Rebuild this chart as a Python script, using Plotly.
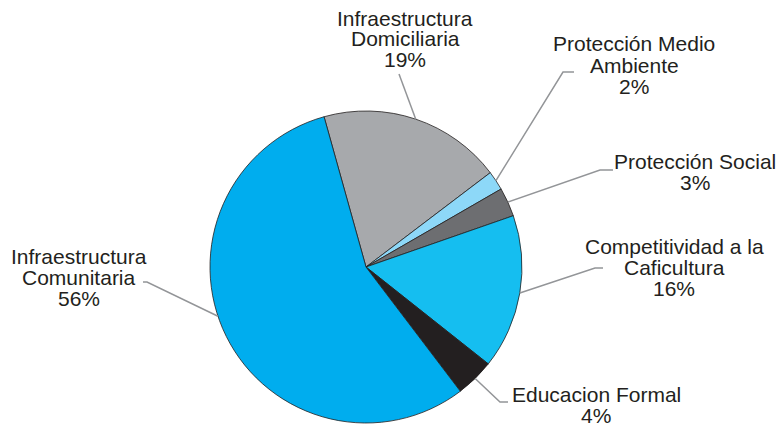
import math
import plotly.graph_objects as go

# ---- data ----
categories = ["Infraestructura Domiciliaria", "Protección Medio Ambiente", "Protección Social",
              "Competitividad a la Caficultura", "Educacion Formal", "Infraestructura Comunitaria"]
values = [19, 2, 3, 16, 4, 56]
label_lines = [
    ["Infraestructura", "Domiciliaria", "19%"],
    ["Protección Medio", "Ambiente", "2%"],
    ["Protección Social", "3%"],
    ["Competitividad a la", "Caficultura", "16%"],
    ["Educacion Formal", "4%"],
    ["Infraestructura", "Comunitaria", "56%"],
]
colors = ["#A7A9AC", "#8DD8F8", "#6D6E71", "#15BEF0", "#231F20", "#00ADEE"]

# ---- layout / style ----
W, H = 779, 424
CX, CY, R = 366, 267, 156
ROT = -15.6
LINE_H = 21
# label centre (x, y of first line) in pixels
label_pos = [(405, 18), (634, 44), (695, 161), (674, 246), (596, 394), (79, 256)]
# leader elbows in pixels, and angular tweak of anchor
leader_pts = [[(399, 74)], [(563, 72), (574, 72)], [(600, 170), (613, 170)],
              [(595, 268), (603, 268)], [(500, 402), (508, 402)], [(147, 282), (143, 282)]]
anchor_shift = [0, 0, 0, 0, 0, 8]

def px(x):
    return x / W

def py(y):
    return 1 - y / H

fig = go.Figure(go.Pie(
    labels=categories, values=values, sort=False, direction="clockwise",
    rotation=ROT, textinfo="none", hoverinfo="label+percent",
    marker=dict(colors=colors, line=dict(color="#231F20", width=0.8)),
    domain=dict(x=[px(CX - R), px(CX + R)], y=[py(CY + R), py(CY - R)]),
    showlegend=False,
))

total = sum(values)
annotations = []
shapes = []
cum = 0.0
for i, v in enumerate(values):
    mid = ROT + (cum + v / 2) / total * 360 + anchor_shift[i]
    cum += v
    ax = CX + R * math.sin(math.radians(mid))
    ay = CY - R * math.cos(math.radians(mid))
    pts = [(ax, ay)] + leader_pts[i]
    path = "M {} {}".format(px(pts[0][0]), py(pts[0][1]))
    for (x, y) in pts[1:]:
        path += " L {} {}".format(px(x), py(y))
    shapes.append(dict(type="path", xref="paper", yref="paper", path=path,
                       line=dict(color="#939598", width=1.5)))
    lx, ly = label_pos[i]
    for j, t in enumerate(label_lines[i]):
        annotations.append(dict(text=t, x=px(lx), y=py(ly + j * LINE_H), xref="paper", yref="paper",
                                xanchor="center", yanchor="middle", showarrow=False,
                                font=dict(family="Liberation Sans, Arial", size=21, color="#231F20")))

fig.update_layout(width=W, height=H, margin=dict(l=0, r=0, t=0, b=0),
                  paper_bgcolor="white", plot_bgcolor="white",
                  annotations=annotations, shapes=shapes)
fig.write_html("out.html", config={"displayModeBar": False},
               post_script="document.body.style.margin='0';")
